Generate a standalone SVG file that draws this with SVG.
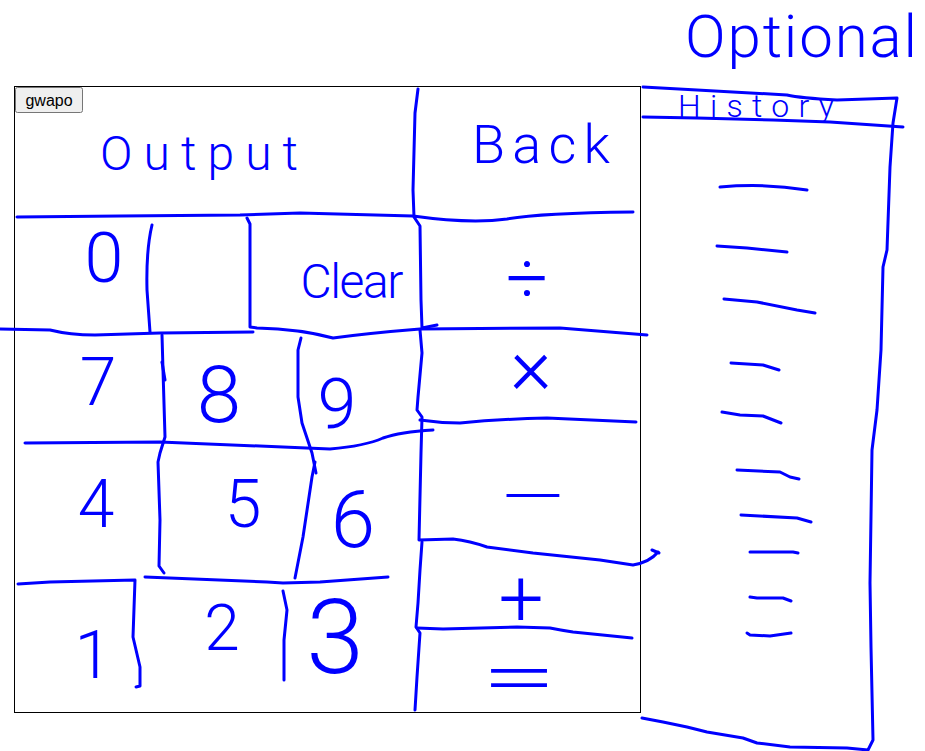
<svg xmlns="http://www.w3.org/2000/svg" width="925" height="751" viewBox="0 0 925 751">
<style>
.s{fill:none;stroke:#0000ff;stroke-width:3;stroke-linecap:round;stroke-linejoin:round}
.h{font-family:Roboto,"Liberation Sans",sans-serif;font-weight:300;fill:#0000ff;text-anchor:middle}
.btn{fill:#efefef;stroke:#767676;stroke-width:1}
.bt{font-family:"Liberation Sans",Arial,sans-serif;font-size:16px;fill:#000;text-anchor:middle}
</style>
<rect width="925" height="751" fill="#fff"/>
<g id="frame">
<rect x="14.5" y="86.5" width="626" height="626" fill="none" stroke="#000" stroke-width="1"/>
</g>
<g id="button">
<rect class="btn" x="15.5" y="87.5" width="67" height="25" rx="2"/>
<text class="bt" x="49" y="106">gwapo</text>
</g>
<g id="grid">
<path class="s" d="M17,217 L120,216 L240,215 L300,213 L413,216 Q470,224 507,219 Q540,213 633,212"/>
<path class="s" d="M418,89 L415,113 L413,190 L414,217 L420,226 L421,300 L422,328 L437,325"/>
<path class="s" d="M152,225 Q146,250 147,290 L150,332"/>
<path class="s" d="M247,218 L250,224 L250,327 L257,328 Q300,329 333,338 Q370,333 420,329 L560,328 Q620,333 647,335"/>
<path class="s" d="M0,329 L50,330 Q70,335 95,335 L160,333 L253,332"/>
<path class="s" d="M162,335 L163,370 L165,437 L160,453 L158,462 L160,520 L159,566 L164,573"/>
<path class="s" d="M162,362 L165,380"/>
<path class="s" d="M301,338 L298,350 L298,397 L302,423 L312,453 L316,473"/>
<path class="s" d="M315,462 L312,477 L303,537 L295,578"/>
<path class="s" d="M25,443 L160,442 L283,447 L330,449 Q365,446 383,438 Q400,432 433,430"/>
<path class="s" d="M420,330 L422,353 L418,397 L417,410 L422,417 L421,453 L419,540 L453,539 Q470,541 487,547 L533,553 L600,560 L633,565 Q650,562 658,552"/>
<path class="s" d="M652,550 L659,553"/>
<path class="s" d="M422,542 L420,570 L418,603 L416,627 L420,633 L417,677 L415,710"/>
<path class="s" d="M420,420 Q440,423 460,423 Q500,419 547,418 L636,422"/>
<path class="s" d="M417,628 L443,629 L517,627 L550,628 Q560,630 573,632 L632,638"/>
<path class="s" d="M18,584 L50,582 L135,580 L133,637 L140,667 L140,686 L136,687"/>
<path class="s" d="M145,577 L267,582 L283,583 L320,582 L388,577"/>
<path class="s" d="M283,591 L287,610 L284,640 L284,680"/>
</g>
<g id="output"><text class="h" x="199" y="170" font-size="48" textLength="198" lengthAdjust="spacing">Output</text></g>
<g id="back"><text class="h" x="541" y="163" font-size="54" textLength="138" lengthAdjust="spacing">Back</text></g>
<g id="key-0"><text class="h" x="104" y="282" font-size="70">0</text></g>
<g id="key-clear"><text class="h" x="352" y="298" font-size="48" textLength="103" lengthAdjust="spacing">Clear</text></g>
<g id="key-div"><text class="h" x="527" y="304" font-size="74">÷</text></g>
<g id="key-7"><text class="h" x="98" y="405" font-size="66">7</text></g>
<g id="key-8"><text class="h" x="219" y="422" font-size="80">8</text></g>
<g id="key-9"><text class="h" x="337" y="428" font-size="70">9</text></g>
<g id="key-mul"><text class="h" x="531" y="393" font-size="80">×</text></g>
<g id="key-4"><text class="h" x="96" y="527" font-size="66">4</text></g>
<g id="key-5"><text class="h" x="243" y="527" font-size="66">5</text></g>
<g id="key-6"><text class="h" x="353" y="547" font-size="80">6</text></g>
<g id="key-sub"><text class="h" x="533" y="517" font-size="60" textLength="74" lengthAdjust="spacingAndGlyphs">−</text></g>
<g id="key-1"><text class="h" x="93" y="678" font-size="67">1</text></g>
<g id="key-2"><text class="h" x="222" y="650" font-size="64">2</text></g>
<g id="key-3"><text class="h" x="335" y="673" font-size="104">3</text></g>
<g id="key-add"><text class="h" x="521" y="626" font-size="80">+</text></g>
<g id="key-eq"><text class="h" x="519" y="702" font-size="72" textLength="76" lengthAdjust="spacingAndGlyphs">=</text></g>
<g id="optional"><text class="h" x="801" y="57" font-size="60" textLength="232" lengthAdjust="spacing">Optional</text></g>
<g id="history">
<path class="s" d="M643,87 L697,90 L787,95 Q800,98 837,100 L897,98 L893,123 L890,167 L887,250 L883,267 L881,350 L877,410 L872,450 L870,583 L871,647 L873,740 L868,750 L847,748 L790,747 L757,743 L743,738 L707,732 L687,727 L663,722 L642,718"/>
<path class="s" d="M643,117 L697,118 L773,120 L830,122 L903,127"/>
<text class="h" x="756" y="117" font-size="32" textLength="156" lengthAdjust="spacing">History</text>
<g id="history-entries">
<path class="s" d="M720,187 Q765,183 807,190"/>
<path class="s" d="M717,246 L747,248 L787,252"/>
<path class="s" d="M724,299 L757,302 L797,310 L815,313"/>
<path class="s" d="M731,363 L763,365 L779,370"/>
<path class="s" d="M722,412 L740,415 L763,416 L781,423"/>
<path class="s" d="M737,470 L780,472 L790,477 L799,479"/>
<path class="s" d="M741,515 L797,518 L811,522"/>
<path class="s" d="M750,552 L773,552 L793,552 L798,553"/>
<path class="s" d="M750,597 L757,598 L783,598 L791,601"/>
<path class="s" d="M747,633 L750,635 L770,636 L791,633"/>
</g>
</g>
</svg>
